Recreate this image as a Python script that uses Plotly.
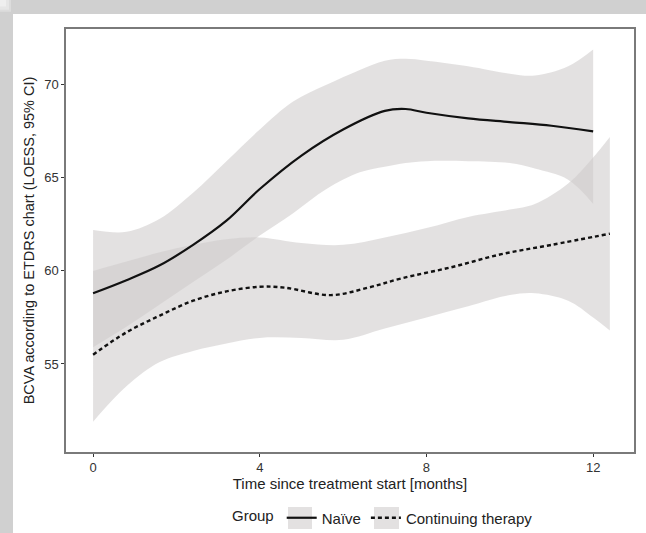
import plotly.graph_objects as go

# ---- data ----
naive_x = [0, 0.8, 1.6, 2.4, 3.2, 4, 5, 6, 7, 7.5, 8, 9, 10, 11, 12]
naive_y = [58.8, 59.5, 60.3, 61.4, 62.7, 64.4, 66.2, 67.6, 68.6, 68.7, 68.5, 68.2, 68.0, 67.8, 67.5]

naive_ci_x = [0, 0.8, 1.6, 2.4, 3.2, 4, 4.8, 5.6, 6.4, 7, 7.5, 8, 9, 10, 10.6, 11.4, 12]
naive_upper = [62.2, 62.1, 62.8, 64.2, 65.9, 67.6, 69.1, 70.0, 70.8, 71.3, 71.4, 71.3, 71.0, 70.6, 70.5, 71.0, 71.9]
naive_lower = [55.9, 57.0, 58.2, 59.4, 60.6, 61.9, 63.1, 64.4, 65.3, 65.6, 65.8, 65.9, 65.9, 65.8, 65.5, 64.9, 63.6]

cont_x = [0, 0.8, 1.6, 2.4, 3.2, 4, 4.6, 5.7, 6.6, 7.4, 8.6, 9.8, 11, 12.4]
cont_y = [55.5, 56.7, 57.6, 58.4, 58.9, 59.15, 59.1, 58.7, 59.1, 59.6, 60.2, 60.9, 61.4, 62.0]

cont_ci_x = [0, 0.8, 1.6, 2.4, 3.2, 4, 5, 6, 7, 8, 9, 10, 10.6, 11.4, 12, 12.4]
cont_upper = [60.0, 60.5, 61.0, 61.4, 61.7, 61.8, 61.5, 61.4, 61.8, 62.3, 62.9, 63.3, 63.6, 64.7, 66.1, 67.2]
cont_lower = [51.9, 53.8, 55.1, 55.7, 56.1, 56.4, 56.4, 56.3, 56.9, 57.5, 58.1, 58.7, 58.8, 58.4, 57.5, 56.8]

x_ticks = [0, 4, 8, 12]
y_ticks = [55, 60, 65, 70]

band_fill = "rgba(206,203,203,0.58)"

fig = go.Figure()

for xs, lo, hi in [(naive_ci_x, naive_lower, naive_upper), (cont_ci_x, cont_lower, cont_upper)]:
    fig.add_trace(go.Scatter(x=xs, y=lo, mode="lines", line=dict(width=0, shape="spline"),
                             showlegend=False, hoverinfo="skip"))
    fig.add_trace(go.Scatter(x=xs, y=hi, mode="lines", line=dict(width=0, shape="spline"),
                             fill="tonexty", fillcolor=band_fill, showlegend=False, hoverinfo="skip"))

fig.add_trace(go.Scatter(x=naive_x, y=naive_y, mode="lines", name="Naïve",
                         line=dict(color="#111111", width=2.2, shape="spline")))
fig.add_trace(go.Scatter(x=cont_x, y=cont_y, mode="lines", name="Continuing therapy",
                         line=dict(color="#111111", width=2.4, dash="4px,3px", shape="spline")))

W, H = 646, 533
L, R, T, B = 66, 12, 29, 81
pw, ph = W - L - R, H - T - B

def px(xp):
    return (xp - L) / pw

def py(yp):
    return (H - B - yp) / ph

shapes = []
# grey surround with soft shadow on the top and left of the white card
for edge, col in [(0, "#efefef"), (6, "#e6e6e6"), (9, "#dcdcdc"), (11, "#d0d0d0")]:
    shapes.append(dict(type="rect", xref="paper", yref="paper", layer="below",
                       x0=px(0), x1=px(W), y0=py(H), y1=py(0 + edge * 14 / 13),
                       fillcolor=col, line=dict(width=0)))
    shapes.append(dict(type="rect", xref="paper", yref="paper", layer="below",
                       x0=px(0 + edge), x1=px(W), y0=py(H), y1=py(0),
                       fillcolor=col, line=dict(width=0)))
shapes.append(dict(type="rect", xref="paper", yref="paper", layer="below",
                   x0=px(13), x1=px(W), y0=py(H), y1=py(14),
                   fillcolor="white", line=dict(width=0)))
# grey key backgrounds in the legend
for k0, k1 in [(288, 312), (374, 399)]:
    shapes.append(dict(type="rect", xref="paper", yref="paper", layer="below",
                       x0=px(k0), x1=px(k1), y0=py(529), y1=py(507),
                       fillcolor="#e3e1e1", line=dict(width=0)))

fig.update_layout(
    width=W, height=H,
    margin=dict(l=L, r=R, t=T, b=B, autoexpand=False),
    paper_bgcolor="white",
    plot_bgcolor="white",
    font=dict(family="Liberation Sans, Arial, sans-serif", color="#222222", size=15),
    shapes=shapes,
    showlegend=True,
    legend=dict(orientation="h", x=px(384), xanchor="center", yref="container",
                y=(H - 518) / H, yanchor="middle", traceorder="normal",
                title=dict(text="Group", side="left", font=dict(size=15)),
                font=dict(size=15), bgcolor="rgba(0,0,0,0)", itemwidth=30),
    xaxis=dict(range=[-0.65, 12.98], tickvals=x_ticks, ticks="outside", ticklen=3,
               tickcolor="#333333", showgrid=False, zeroline=False, automargin=False,
               showline=True, linecolor="#7a7a7a", linewidth=1.5, mirror=True,
               tickfont=dict(size=13, color="#333333"),
               title=dict(text="Time since treatment start [months]", standoff=1,
                          font=dict(size=15))),
    yaxis=dict(range=[50.27, 73.0], tickvals=y_ticks, ticks="outside", ticklen=3,
               tickcolor="#333333", showgrid=False, zeroline=False, automargin=False,
               showline=True, linecolor="#7a7a7a", linewidth=1.5, mirror=True,
               tickfont=dict(size=13, color="#333333"),
               title=dict(text="BCVA according to ETDRS chart (LOESS, 95% CI)", standoff=6,
                          font=dict(size=14.5))),
)

fig.write_html("out.html", config={"displayModeBar": False},
               post_script="document.body.style.margin='0';document.body.style.overflow='hidden';")
